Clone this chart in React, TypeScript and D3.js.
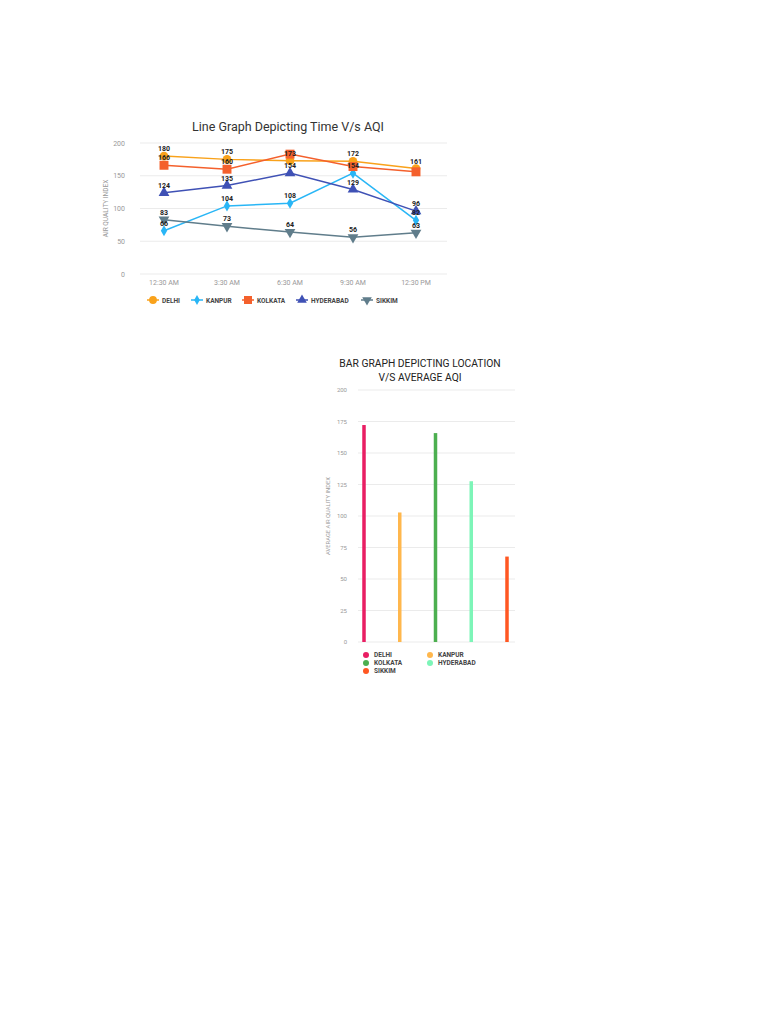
import React from "react";
import * as d3 from "d3";

const times = ["12:30 AM", "3:30 AM", "6:30 AM", "9:30 AM", "12:30 PM"];
const cities = ["DELHI", "KANPUR", "KOLKATA", "HYDERABAD", "SIKKIM"];
const delhi = [180, 175, 173, 172, 161];
const kanpur = [66, 104, 108, 154, 82];
const kolkata = [166, 160, 183, 164, 156];
const hyderabad = [124, 135, 154, 129, 96];
const sikkim = [83, 73, 64, 56, 63];
const lineTicks = [0, 50, 100, 150, 200];
// which value labels are visible (the reference hides colliding ones)
const kolkataLabelShown = [true, true, false, false, false];

const barCities = ["DELHI", "KANPUR", "KOLKATA", "HYDERABAD", "SIKKIM"];
const barValues = [172.2, 102.8, 165.8, 127.6, 67.8];
const barTicks = [0, 25, 50, 75, 100, 125, 150, 175, 200];

const lineColors = ["#f9a21b", "#29b6f6", "#f4602c", "#3f51b5", "#607d8b"];
const lineShapes = [d3.symbolCircle, d3.symbolDiamond, d3.symbolSquare, d3.symbolTriangle, d3.symbolTriangle];
const lineSizes = [60, 35, 80, 50, 50];
const barColors = ["#e91e63", "#ffb74d", "#4caf50", "#7df5b8", "#ff5722"];

const FONT = "Roboto, 'Noto Sans', sans-serif";

function LineChart() {
  const series = [delhi, kanpur, kolkata, hyderabad, sikkim];
  const shown = [null, null, kolkataLabelShown, null, null];
  const x = d3.scalePoint<string>().domain(times).range([164, 416]);
  const y = d3.scaleLinear().domain([0, 200]).range([274, 143]);
  const line = d3.line<number>().x((_, i) => x(times[i])!).y((d) => y(d));
  const legendX = [153, 197, 248, 302, 367];
  return (
    <g fontFamily={FONT}>
      <text x={288} y={131} textAnchor="middle" fontSize={12.5} fill="#333">
        Line Graph Depicting Time V/s AQI
      </text>
      {lineTicks.map((t) => (
        <g key={t}>
          <line x1={140} x2={447} y1={y(t)} y2={y(t)} stroke="#ebebeb" strokeWidth={1} />
          <text x={125} y={y(t) + 2.5} textAnchor="end" fontSize={7} fill="#999">
            {t}
          </text>
        </g>
      ))}
      <text
        transform={`translate(108,${y(100)}) rotate(-90)`}
        textAnchor="middle"
        fontSize={6.5}
        fill="#999"
      >
        AIR QUALITY INDEX
      </text>
      {times.map((t) => (
        <text key={t} x={x(t)} y={285} textAnchor="middle" fontSize={7} fill="#999">
          {t}
        </text>
      ))}
      {series.map((s, si) => (
        <path key={si} d={line(s) || ""} fill="none" stroke={lineColors[si]} strokeWidth={1.5} />
      ))}
      {series.map((s, si) =>
        s.map((v, i) => (
          <path
            key={`${si}-${i}`}
            d={d3.symbol().type(lineShapes[si]).size(lineSizes[si])() || ""}
            transform={`translate(${x(times[i])},${y(v)})${si === 4 ? " rotate(180)" : ""}`}
            fill={lineColors[si]}
          />
        ))
      )}
      {series.map((s, si) =>
        s.map((v, i) =>
          shown[si] && !shown[si]![i] ? null : (
            <text
              key={`l${si}-${i}`}
              x={x(times[i])}
              y={y(v) - 5}
              textAnchor="middle"
              fontSize={7}
              fontWeight="bold"
              fill="#222"
            >
              {v}
            </text>
          )
        )
      )}
      {cities.map((c, i) => (
        <g key={c}>
          <line x1={legendX[i] - 6} x2={legendX[i] + 6} y1={300} y2={300} stroke={lineColors[i]} strokeWidth={1.5} />
          <path
            d={d3.symbol().type(lineShapes[i]).size(lineSizes[i] * 0.8)() || ""}
            transform={`translate(${legendX[i]},300)${i === 4 ? " rotate(180)" : ""}`}
            fill={lineColors[i]}
          />
          <text x={legendX[i] + 9} y={302.5} fontSize={6.5} fontWeight="bold" fill="#444">
            {c}
          </text>
        </g>
      ))}
    </g>
  );
}

function BarChart() {
  const x = d3.scalePoint<string>().domain(barCities).range([364, 507]);
  const y = d3.scaleLinear().domain([0, 200]).range([642, 390]);
  const legend = [
    { x: 366, y: 655 },
    { x: 430, y: 655 },
    { x: 366, y: 663 },
    { x: 430, y: 663 },
    { x: 366, y: 671 },
  ];
  return (
    <g fontFamily={FONT}>
      <text x={420} y={367} textAnchor="middle" fontSize={10.3} fill="#222">
        BAR GRAPH DEPICTING LOCATION
      </text>
      <text x={420} y={381} textAnchor="middle" fontSize={10.3} fill="#222">
        V/S AVERAGE AQI
      </text>
      {barTicks.map((t) => (
        <g key={t}>
          <line x1={358} x2={515} y1={y(t)} y2={y(t)} stroke="#ebebeb" strokeWidth={1} />
          <text x={347} y={y(t) + 2} textAnchor="end" fontSize={6} fill="#999">
            {t}
          </text>
        </g>
      ))}
      <text
        transform={`translate(330,${y(100)}) rotate(-90)`}
        textAnchor="middle"
        fontSize={5.8}
        fill="#999"
      >
        AVERAGE AIR QUALITY INDEX
      </text>
      {barValues.map((v, i) => (
        <rect
          key={barCities[i]}
          x={x(barCities[i])! - 1.75}
          width={3.5}
          y={y(v)}
          height={y(0) - y(v)}
          fill={barColors[i]}
        />
      ))}
      {barCities.map((c, i) => (
        <g key={c}>
          <circle cx={legend[i].x} cy={legend[i].y} r={3} fill={barColors[i]} />
          <text x={legend[i].x + 8} y={legend[i].y + 2.2} fontSize={6.5} fontWeight="bold" fill="#444">
            {c}
          </text>
        </g>
      ))}
    </g>
  );
}

export default function App() {
  return (
    <svg
      width={768}
      height={1024}
      style={{ position: "absolute", left: 0, top: 0 }}
      viewBox="0 0 768 1024"
    >
      <rect width={768} height={1024} fill="#fff" />
      <LineChart />
      <BarChart />
    </svg>
  );
}
